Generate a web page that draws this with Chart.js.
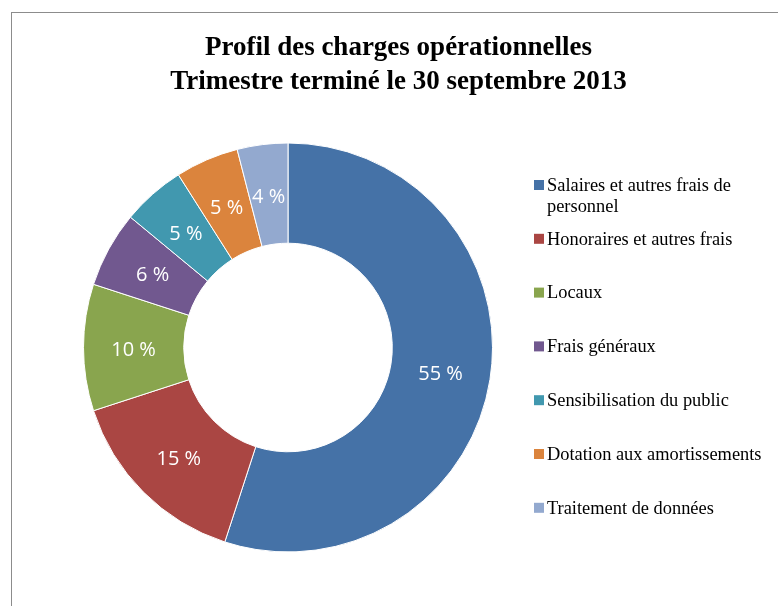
<!DOCTYPE html>
<html>
<head>
<meta charset="utf-8">
<script src="https://cdn.jsdelivr.net/npm/chart.js@4.4.0/dist/chart.umd.min.js"></script>
<style>
  html, body { margin: 0; padding: 0; background: #fff; overflow: hidden; }
  #frame { position: absolute; left: 11px; top: 12px; width: 775px; height: 640px; border: 1px solid #8c8c8c; }
  #wrap { position: absolute; left: 0; top: 0; width: 797px; height: 606px; }
</style>
</head>
<body>
<div id="frame"></div>
<div id="wrap"><canvas id="myChart"></canvas></div>
<script>
var titleLines = ['Profil des charges opérationnelles', 'Trimestre terminé le 30 septembre 2013'];
var categories = [
    ['Salaires et autres frais de', 'personnel'],
    'Honoraires et autres frais',
    'Locaux',
    'Frais généraux',
    'Sensibilisation du public',
    'Dotation aux amortissements',
    'Traitement de données'
];
var values = [55, 15, 10, 6, 5, 5, 4];
var colors = ['#4572A7', '#AA4643', '#89A54E', '#71588F', '#4198AF', '#DB843D', '#93A9CF'];

// title centred on the whole frame, not on the doughnut area
var frameTitle = {
    id: 'frameTitle',
    afterDraw: function(chart) {
        var ctx = chart.ctx;
        ctx.save();
        ctx.fillStyle = '#000000';
        ctx.font = 'bold 27px "Liberation Serif"';
        ctx.textAlign = 'center';
        ctx.textBaseline = 'alphabetic';
        titleLines.forEach(function(line, i) {
            ctx.fillText(line, chart.width / 2, 55 + i * 33.5);
        });
        ctx.restore();
    }
};

// percentage labels drawn on each slice
var sliceLabels = {
    id: 'sliceLabels',
    afterDatasetsDraw: function(chart) {
        var ctx = chart.ctx;
        var meta = chart.getDatasetMeta(0);
        ctx.save();
        ctx.fillStyle = '#ffffff';
        ctx.font = '20px "Open Sans"';
        ctx.textAlign = 'center';
        ctx.textBaseline = 'middle';
        meta.data.forEach(function(arc, i) {
            var p = arc.tooltipPosition(true);
            ctx.fillText(values[i] + ' %', p.x, p.y + 2.5);
        });
        ctx.restore();
    }
};

// legend on the right, with wrapped first label
var sideLegend = {
    id: 'sideLegend',
    afterDraw: function(chart) {
        var ctx = chart.ctx;
        var x = chart.chartArea.right + 41;
        var y0 = 185;
        var step = 53.8;
        ctx.save();
        ctx.font = '18.4px "Liberation Serif"';
        ctx.textBaseline = 'middle';
        ctx.textAlign = 'left';
        categories.forEach(function(label, i) {
            var y = y0 + i * step;
            ctx.fillStyle = colors[i];
            ctx.fillRect(x, y - 5, 10, 10);
            ctx.fillStyle = '#000000';
            var lines = Array.isArray(label) ? label : [label];
            lines.forEach(function(line, j) {
                ctx.fillText(line, x + 13, y + 1 + j * 21);
            });
        });
        ctx.restore();
    }
};

var ctx = document.getElementById('myChart').getContext('2d');
var myChart = new Chart(ctx, {
    type: 'doughnut',
    data: {
        labels: categories,
        datasets: [{
            data: values,
            backgroundColor: colors,
            borderColor: '#ffffff',
            borderWidth: 1
        }]
    },
    options: {
        responsive: true,
        maintainAspectRatio: false,
        animation: false,
        cutout: '51%',
        layout: {
            padding: { left: 83, right: 304, top: 142.5, bottom: 53.5 }
        },
        plugins: {
            legend: { display: false },
            tooltip: { enabled: false },
            title: { display: false }
        }
    },
    plugins: [frameTitle, sliceLabels, sideLegend]
});
</script>
</body>
</html>
